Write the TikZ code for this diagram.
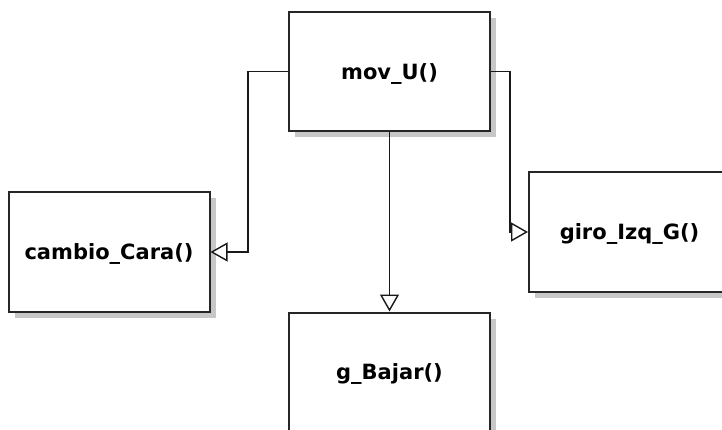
\documentclass[tikz,border=0pt]{standalone}
\usepackage{fontspec}
\setmainfont{DejaVu Sans}
\usetikzlibrary{arrows.meta,shadows}
\begin{document}
\begin{tikzpicture}[x=1pt,y=-1pt,
  box/.style={draw=black!85, line width=2pt, fill=white, minimum width=201pt, minimum height=119pt,
    inner sep=0pt, text depth=0pt, font=\fontsize{21}{23}\selectfont\bfseries,
    drop shadow={shadow xshift=6pt, shadow yshift=-6pt, fill=black!22, opacity=1}},
  arr/.style={draw=black!90, line width=1.8pt, -{Triangle[length=17pt,width=19pt,fill=white,line width=1.4pt]}}]
\useasboundingbox (0,0) rectangle (722,430);
\clip (0,0) rectangle (722,430);
\fill[white] (0,0) rectangle (722,430);
\node[box] (mov) at (389.5,71.5) {mov\_U()};
\node[box] (cam) at (109,252) {cambio\_Cara()};
\node[box] (giro) at (629.5,232) {giro\_Izq\_G()};
\node[box] (baj) at (389.5,372) {g\_Bajar()};
\draw[arr] (mov.west) -- ++(-40,0) |- (cam.east);
\draw[arr] (mov.east) -- ++(19,0) |- (giro.west);
\draw[arr] (mov.south) -- (baj.north);
\end{tikzpicture}
\end{document}
